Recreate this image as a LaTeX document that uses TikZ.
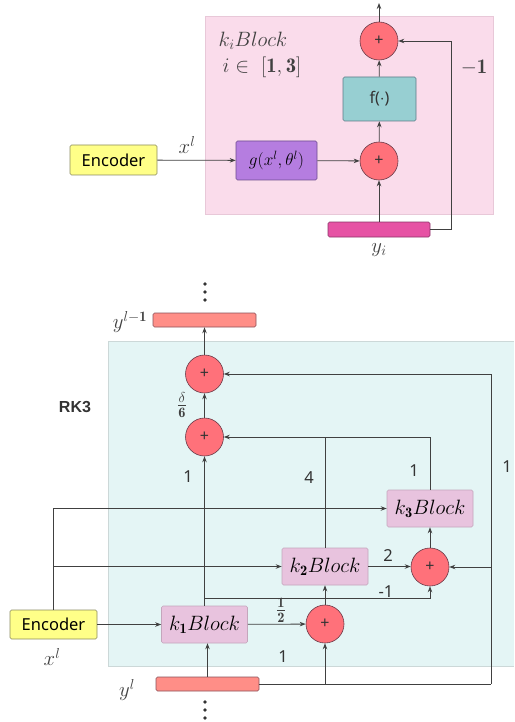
\documentclass[tikz,border=0pt]{standalone}
\usepackage{fontspec}
\usepackage{amsmath}
\newfontfamily\lblfont{Noto Sans}
\newfontfamily\rkfont{Liberation Sans}
\usetikzlibrary{arrows.meta,calc}
\definecolor{pinkbg}{HTML}{FADCEB}
\definecolor{pinkedge}{HTML}{E8C8D8}
\definecolor{tealbg}{HTML}{E4F5F5}
\definecolor{tealedge}{HTML}{CCD8D8}
\definecolor{circfill}{HTML}{FF717A}
\definecolor{circedge}{HTML}{6A3A48}
\definecolor{ffill}{HTML}{97CFD2}
\definecolor{fedge}{HTML}{5E7C88}
\definecolor{gfill}{HTML}{B57DE0}
\definecolor{gedge}{HTML}{6E4C90}
\definecolor{encfill}{HTML}{FFFF88}
\definecolor{encedge}{HTML}{8A8A60}
\definecolor{yifill}{HTML}{E652A4}
\definecolor{yiedge}{HTML}{8A3468}
\definecolor{kfill}{HTML}{E8C3DE}
\definecolor{kedge}{HTML}{C4A6BC}
\definecolor{ybfill}{HTML}{FF8E87}
\definecolor{ybedge}{HTML}{8A5058}
\definecolor{linec}{HTML}{404040}
\definecolor{txtc}{HTML}{333333}
\tikzset{
  arr/.style={draw=linec, line width=0.8pt, -{Stealth[length=6pt,width=4.5pt]}},
  ln/.style={draw=linec, line width=0.8pt},
  plus/.style={circle, fill=circfill, draw=circedge, line width=0.6pt, minimum size=38pt, inner sep=0pt, font=\lblfont\fontsize{16}{16}\selectfont, text=txtc},
  boxbase/.style={rectangle, rounded corners=1.5pt, inner sep=0pt, line width=0.6pt},
  fbox/.style={boxbase, fill=ffill, draw=fedge, minimum width=73pt, minimum height=44pt, font=\lblfont\fontsize{16}{17}\selectfont, text=txtc},
  gbox/.style={boxbase, fill=gfill, draw=gedge, minimum width=81pt, minimum height=39pt, font=\fontsize{17.28}{19}\selectfont},
  encbox/.style={boxbase, fill=encfill, draw=encedge, minimum width=87pt, minimum height=30pt, font=\lblfont\fontsize{16.5}{17}\selectfont},
  kbox/.style={boxbase, fill=kfill, draw=kedge, minimum width=86pt, minimum height=37pt, font=\fontsize{20.74}{22}\selectfont},
  yibar/.style={boxbase, fill=yifill, draw=yiedge, minimum width=102pt, minimum height=15pt},
  ybar/.style={boxbase, fill=ybfill, draw=ybedge, minimum width=103pt, minimum height=14pt},
  num/.style={font=\lblfont\fontsize{16.5}{17}\selectfont, text=txtc},
  mlbl/.style={font=\fontsize{20.74}{22}\selectfont, text=black!75},
  rklbl/.style={font=\rkfont\bfseries\fontsize{16}{17}\selectfont, text=txtc},
  dot/.style={fill=txtc},
}
\begin{document}
\begin{tikzpicture}[x=1pt,y=-1pt]
\useasboundingbox (0,0) rectangle (514,722);
% ---------- top part ----------
\fill[pinkbg] (205,16) rectangle (493,214);
\draw[pinkedge, line width=0.6pt] (205,16) rectangle (493,214);
\node[plus] (tc1) at (379,41) {+};
\node[plus] (tc2) at (379,161) {+};
\node[fbox] (f) at (379.5,99) {f($\cdot$)};
\node[gbox] (g) at (276.5,160.5) {$g(x^l,\theta^l)$};
\node[encbox] (enc1) at (113.5,160) {Encoder};
\node[yibar] (yi) at (379,229.5) {};
\coordinate (topout) at (379,3);
\coordinate (yr) at (451,229.5);
\draw[arr] (enc1) -- (g);
\draw[arr] (g) -- (tc2);
\draw[arr] (tc2) -- (f);
\draw[arr] (f) -- (tc1);
\draw[arr] (tc1) -- (topout);
\draw[arr] (yi) -- (tc2);
\draw[ln] (yi.east) -- (yr);
\draw[arr] (yr) |- (tc1.east);
\node[mlbl] (xl1) at (187,145) {$x^l$};
\node[mlbl] (kib) at (253,41) {$k_iBlock$};
\node[mlbl] (irange) at (262,67) {$i\in\ [\mathbf{1,3}]$};
\node[mlbl] (m1) at (474,68) {$\mathbf{-1}$};
\node[mlbl] (yil) at (379,250) {$y_i$};
% ---------- bottom part ----------
\fill[tealbg] (108,341) rectangle (514,666);
\draw[tealedge, line width=0.6pt] (514,341) -- (108,341) -- (108,666) -- (514,666);
\node[ybar] (yb1) at (204.5,320) {};
\node[plus] (C1) at (204.5,374) {+};
\node[plus] (C2) at (204.5,437) {+};
\node[kbox] (k3) at (430,508.5) {$k_{\mathbf{3}}Block$};
\node[kbox] (k2) at (325,566.5) {$k_{\mathbf{2}}Block$};
\node[kbox] (k1) at (204.5,624.5) {$k_{\mathbf{1}}Block$};
\node[plus] (C3) at (430,567) {+};
\node[plus] (C4) at (325,624) {+};
\node[encbox, minimum height=29pt] (enc2) at (53.5,624.5) {Encoder};
\node[ybar] (yb2) at (207.5,684) {};
\coordinate (rr) at (491,684);
\coordinate (br) at ($(k1.north)+(0,-7)$);
\fill[dot] (205,284) circle (1.9) (205,292) circle (1.9) (205,300) circle (1.9);
\fill[dot] (205,702) circle (1.9) (205,710) circle (1.9) (205,718) circle (1.9);
% connectors
\draw[arr] (C1) -- (yb1);
\draw[arr] (C2) -- (C1);
\draw[arr] (k1.north) -- (C2.south);
\draw[arr] (br) -| (C3.south);
\draw[arr] (enc2) -- (k1);
\draw[arr] (enc2.north) |- (k3.west);
\draw[arr] (enc2.north |- k2.west) -- (k2.west);
\draw[arr] (k1) -- (C4);
\draw[arr] (C4) -- (k2);
\draw[arr] (k2.east) -- (C3.west |- k2.east);
\draw[ln] (k2.north) -- (k2.north |- C2.east);
\draw[arr] (C3) -- (k3);
\draw[arr] (k3.north) |- (C2.east);
\draw[arr] (yb2.north) -- (yb2.north |- k1.south);
\draw[ln] (yb2.east) -- (rr);
\draw[arr] (rr) |- (C1.east);
\draw[arr] (yb2.east -| C4.south) -- (C4.south);
\draw[arr] (rr |- C3.east) -- (C3.east);
% labels
\node[rklbl] (rk3) at (75,407) {RK3};
\node[mlbl] (d6) at (182,405) {$\frac{\delta}{\mathbf{6}}$};
\node[mlbl] (half) at (281,610) {$\frac{\mathbf{1}}{\mathbf{2}}$};
\node[num] (n1) at (188,477) {1};
\node[num] (n4) at (309,478) {4};
\node[num] (n1b) at (414,471) {1};
\node[num] (n1c) at (507,467) {1};
\node[num] (nm1) at (386,592) {-1};
\node[num] (n2) at (388,556) {2};
\node[num] (n1d) at (283,657) {1};
\node[mlbl] (ylm1) at (130,322) {$y^{l-\mathbf{1}}$};
\node[mlbl] (yl) at (127,690) {$y^l$};
\node[mlbl] (xl2) at (52,657) {$x^l$};
\end{tikzpicture}
\end{document}
